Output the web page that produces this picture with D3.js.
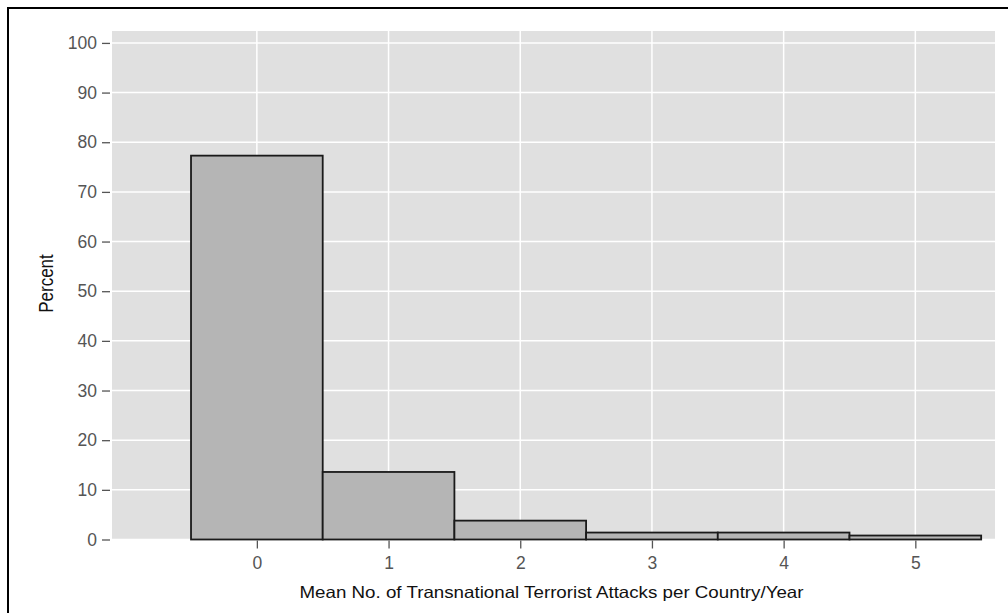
<!DOCTYPE html>
<html><head><meta charset="utf-8">
<script src="https://cdn.jsdelivr.net/npm/d3@7"></script>
<style>html,body{margin:0;padding:0;background:#fff;}svg{display:block;}</style>
</head><body>
<svg id="c" width="1008" height="613"></svg>
<script>
const categories = [0, 1, 2, 3, 4, 5];
const percentValues = [77.3, 13.6, 3.8, 1.4, 1.4, 0.8];
const yTicks = [0, 10, 20, 30, 40, 50, 60, 70, 80, 90, 100];
const xTitle = "Mean No. of Transnational Terrorist Attacks per Country/Year";
const yTitle = "Percent";

const FONT = "Liberation Sans, Arial, Helvetica, sans-serif";
const svg = d3.select("#c");
const panel = {left: 112, right: 995, top: 31, bottom: 539.5};
const x = d3.scaleLinear().domain([-1.1, 5.605]).range([panel.left, panel.right]);
const y = d3.scaleLinear().domain([0, 102.4]).range([panel.bottom, panel.top]);

// outer frame
svg.append("rect").attr("x", 8).attr("y", 8).attr("width", 1100).attr("height", 700)
  .attr("fill", "none").attr("stroke", "#000").attr("stroke-width", 2);

// panel background
svg.append("rect").attr("x", panel.left).attr("y", panel.top)
  .attr("width", panel.right - panel.left).attr("height", panel.bottom - panel.top)
  .attr("fill", "#e0e0e0");

// grid
svg.append("g").selectAll("line").data(yTicks).join("line")
  .attr("x1", panel.left).attr("x2", panel.right)
  .attr("y1", d => y(d)).attr("y2", d => y(d))
  .attr("stroke", "#fff").attr("stroke-width", 1.5);
svg.append("g").selectAll("line").data(categories).join("line")
  .attr("x1", d => x(d)).attr("x2", d => x(d))
  .attr("y1", panel.top).attr("y2", panel.bottom)
  .attr("stroke", "#fff").attr("stroke-width", 1.5);

// bars
svg.append("g").selectAll("rect").data(categories).join("rect")
  .attr("x", d => x(d - 0.5))
  .attr("width", d => x(d + 0.5) - x(d - 0.5))
  .attr("y", (d, i) => y(percentValues[i]))
  .attr("height", (d, i) => y(0) - y(percentValues[i]))
  .attr("fill", "#b5b5b5").attr("stroke", "#1a1a1a").attr("stroke-width", 1.8);

// y axis
const yAxis = d3.axisLeft(y).tickValues(yTicks).tickSize(8).tickPadding(5).tickFormat(d3.format("d"));
const gy = svg.append("g").attr("transform", `translate(${panel.left - 2},0)`).call(yAxis);
gy.select(".domain").remove();
gy.selectAll(".tick line").attr("stroke", "#555").attr("stroke-width", 1.3);
gy.selectAll(".tick text").attr("fill", "#555").style("font-family", FONT).style("font-size", "17.5px");

// x axis
const xAxis = d3.axisBottom(x).tickValues(categories).tickSize(8).tickPadding(8).tickFormat(d3.format("d"));
const gx = svg.append("g").attr("transform", `translate(0,${panel.bottom + 1})`).call(xAxis);
gx.select(".domain").remove();
gx.selectAll(".tick line").attr("stroke", "#555").attr("stroke-width", 1.3);
gx.selectAll(".tick text").attr("fill", "#555").style("font-family", FONT).style("font-size", "17.5px");

// titles
svg.append("text").attr("x", 551.5).attr("y", 598)
  .attr("text-anchor", "middle").attr("fill", "#111")
  .attr("textLength", 504).attr("lengthAdjust", "spacingAndGlyphs")
  .style("font-family", FONT).style("font-size", "16.5px")
  .text(xTitle);
svg.append("text").attr("transform", `translate(53,283.5) rotate(-90) scale(1,1.15)`)
  .attr("text-anchor", "middle").attr("fill", "#111")
  .style("font-family", FONT).style("font-size", "17px")
  .text(yTitle);
</script>
</body></html>
